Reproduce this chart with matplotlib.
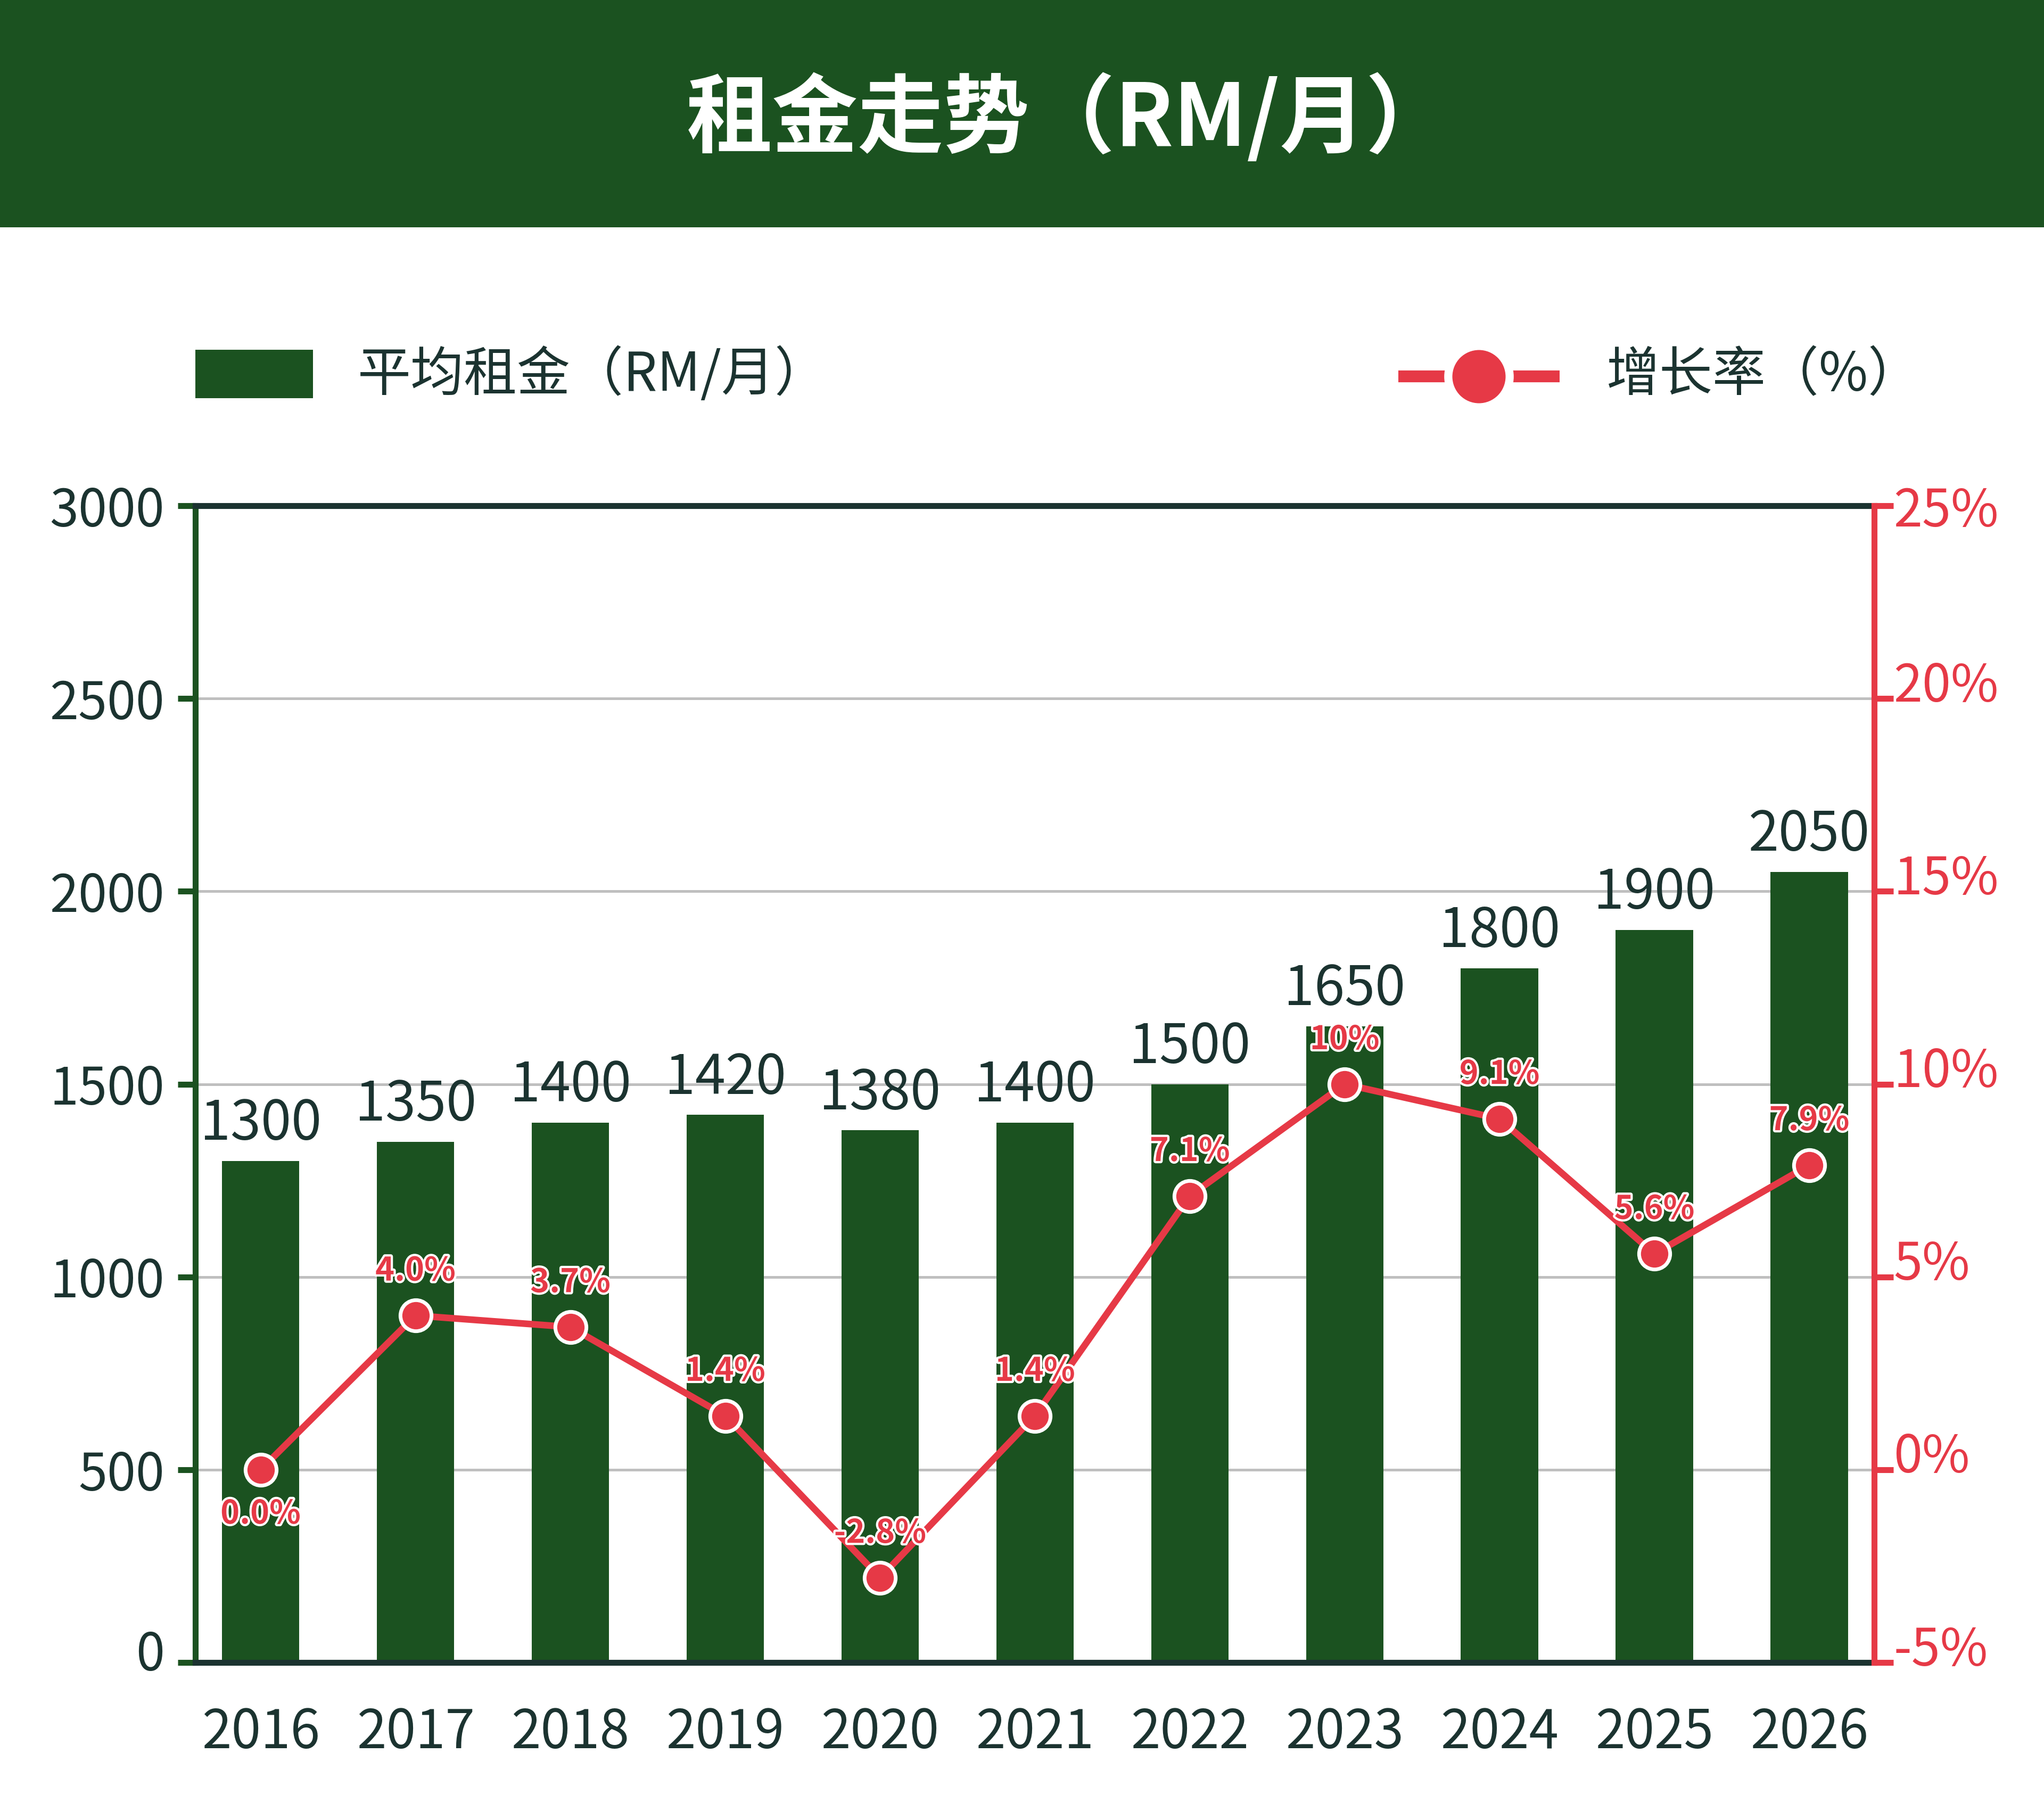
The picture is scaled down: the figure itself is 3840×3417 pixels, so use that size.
import matplotlib
matplotlib.use("Agg")
import matplotlib.pyplot as plt
import matplotlib.patheffects as pe
import matplotlib.transforms as mtransforms
from matplotlib.patches import Rectangle
from matplotlib.lines import Line2D

plt.rcParams['font.family'] = ['Noto Sans CJK SC', 'DejaVu Sans']

# data
years = ['2016', '2017', '2018', '2019', '2020', '2021', '2022', '2023', '2024', '2025', '2026']
rent = [1300, 1350, 1400, 1420, 1380, 1400, 1500, 1650, 1800, 1900, 2050]
growth = [0.0, 4.0, 3.7, 1.4, -2.8, 1.4, 7.1, 10.0, 9.1, 5.6, 7.9]
growth_labels = ['0.0%', '4.0%', '3.7%', '1.4%', '-2.8%', '1.4%', '7.1%', '10%', '9.1%', '5.6%', '7.9%']
left_ticks = [0, 500, 1000, 1500, 2000, 2500, 3000]
right_ticks = [-5, 0, 5, 10, 15, 20, 25]

green = '#1b5220'
red = '#e63946'
dark = '#1b3330'
grid_c = '#bfbfbf'

fig = plt.figure(figsize=(38.4, 34.17), dpi=100)
fig.patch.set_facecolor('white')

# header band
fig.add_artist(Rectangle((0, 0.875), 1, 0.125, transform=fig.transFigure,
                         facecolor=green, edgecolor='none', zorder=0))
fig.text(0.523, 0.934, '租金走势（RM/月）', color='white', fontsize=116,
         fontweight='bold', ha='center', va='center')

# legend (drawn by hand)
fig.add_artist(Rectangle((0.0957, 0.781), 0.0575, 0.0266, transform=fig.transFigure,
                         facecolor=green, edgecolor='none'))
fig.text(0.175, 0.7936, '平均租金（RM/月）', color=dark, fontsize=72, ha='left', va='center')
fig.add_artist(Line2D([0.684, 0.763], [0.7932, 0.7932], transform=fig.transFigure,
                      color=red, linewidth=16, solid_capstyle='butt'))
fig.add_artist(Line2D([0.7235], [0.7932], transform=fig.transFigure, marker='o',
                      markersize=83, markerfacecolor=red, markeredgecolor='white',
                      markeredgewidth=11, linestyle='none'))
fig.text(0.786, 0.7936, '增长率（%）', color=dark, fontsize=72, ha='left', va='center')

# main axes
ax = fig.add_axes([0.0957, 0.086, 0.8213, 0.636])
x = list(range(len(years)))
ax.bar(x, rent, width=0.5, color=green, zorder=2)
ax.set_xlim(-0.42, len(years) - 1 + 0.42)
ax.set_ylim(0, 3000)
ax.set_yticks(left_ticks)
ax.set_yticklabels([str(v) for v in left_ticks])
ax.set_xticks(x)
ax.set_xticklabels(years)
ax.yaxis.grid(True, color=grid_c, linewidth=3.6, zorder=0)
ax.set_axisbelow(True)
ax.tick_params(axis='y', colors=green, labelcolor=dark, labelsize=70,
               length=24, width=8, pad=18)
ax.tick_params(axis='x', length=0, labelcolor=dark, labelsize=72, pad=58)
for side in ['top', 'bottom']:
    ax.spines[side].set_color(dark)
    ax.spines[side].set_linewidth(8)
ax.spines['left'].set_color(green)
ax.spines['left'].set_linewidth(8)
ax.spines['right'].set_visible(False)
# lowest left label sits a little above its tick
zero_lbl = ax.get_yticklabels()[0]
zero_lbl.set_transform(zero_lbl.get_transform() +
                       mtransforms.ScaledTranslation(0, 17 / 72, fig.dpi_scale_trans))

for xi, v in zip(x, rent):
    ax.annotate(str(v), (xi, v), xytext=(0, 50), textcoords='offset points',
                ha='center', va='center', fontsize=74, color=dark, zorder=5)

# growth line on right axis
ax2 = ax.twinx()
ax2.set_zorder(ax.get_zorder() + 1)
ax2.patch.set_visible(False)
ax2.plot(x, growth, color=red, linewidth=9, marker='o', markersize=42,
         markerfacecolor=red, markeredgecolor='white', markeredgewidth=5, zorder=4)
ax2.set_ylim(-5, 25)
ax2.set_yticks(right_ticks)
ax2.set_yticklabels([f'{v}%' for v in right_ticks])
ax2.tick_params(axis='y', colors=red, labelcolor=red, labelsize=70,
                length=26, width=8, pad=0)
for side in ['top', 'bottom', 'left']:
    ax2.spines[side].set_visible(False)
ax2.spines['right'].set_color(red)
ax2.spines['right'].set_linewidth(8)
for lbl in ax2.get_yticklabels()[:-1]:
    lbl.set_transform(lbl.get_transform() +
                      mtransforms.ScaledTranslation(0, 24 / 72, fig.dpi_scale_trans))

for xi, v, s in zip(x, growth, growth_labels):
    dy = -60 if v == 0 else 60
    ax2.annotate(s, (xi, v), xytext=(0, dy), textcoords='offset points',
                 ha='center', va='center', fontsize=44, fontweight='bold', color=red,
                 path_effects=[pe.withStroke(linewidth=6, foreground='white')], zorder=6)

fig.savefig('out.png', dpi=100, facecolor='white')
